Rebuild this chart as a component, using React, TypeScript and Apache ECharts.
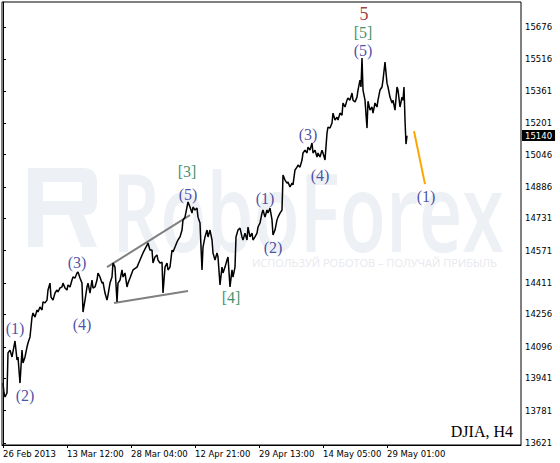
import React, { useEffect, useRef } from "react";
import * as echarts from "echarts";

// Time axis: one unit per H4 bar, labelled every 64 bars
const timeLabels = [
  "26 Feb 2013",
  "13 Mar 12:00",
  "28 Mar 04:00",
  "12 Apr 21:00",
  "29 Apr 13:00",
  "14 May 05:00",
  "29 May 01:00",
];
const timeLabelBars = [0, 64, 128, 192, 256, 320, 384];

// Price scale marks on the right-hand axis
const priceTicks = [
  13621, 13781, 13941, 14096, 14256, 14411, 14571, 14731, 14886, 15046, 15201,
  15361, 15516, 15676,
];
const lastPrice = 15140;

// DJIA H4 closes (bar index, price)
const bars = [
  0, 1, 2, 4, 5, 7, 9, 12, 14, 15, 17, 19, 20, 22, 24, 25, 27, 29, 30, 32, 34,
  35, 37, 39, 40, 42, 44, 45, 47, 48, 50, 52, 54, 55, 57, 59, 60, 62, 64, 65,
  67, 69, 70, 72, 74, 75, 77, 79, 80, 82, 84, 85, 87, 89, 90, 92, 94, 95, 97,
  99, 100, 102, 104, 105, 107, 109, 110, 112, 114, 115, 117, 119, 120, 122,
  124, 125, 127, 130, 134, 137, 140, 144, 145, 147, 149, 150, 152, 154, 155,
  157, 159, 160, 162, 164, 165, 167, 169, 170, 172, 174, 175, 177, 179, 180,
  182, 184, 185, 187, 189, 190, 192, 194, 195, 197, 199, 200, 202, 204, 205,
  207, 209, 210, 212, 214, 215, 217, 219, 220, 222, 224, 225, 227, 229, 230,
  232, 233, 235, 237, 239, 240, 242, 244, 245, 247, 249, 250, 252, 254, 255,
  257, 259, 260, 262, 264, 265, 267, 269, 270, 272, 274, 275, 277, 279, 280,
  282, 284, 285, 287, 289, 290, 292, 294, 295, 297, 299, 300, 302, 304, 305,
  307, 309, 310, 312, 314, 315, 317, 319, 320, 322, 324, 325, 327, 329, 330,
  332, 334, 335, 337, 339, 340, 342, 344, 345, 347, 349, 350, 352, 354, 355,
  357, 358, 359, 360, 362, 364, 365, 367, 369, 370, 372, 374, 375, 377, 379,
  380, 382, 384, 385, 387, 389, 390, 392, 394, 395, 397, 399, 400, 401, 402,
  403, 404,
];
const closes = [
  13917, 13868, 13848, 13868, 14066, 14080, 14046, 14125, 14031, 14046, 13917,
  14080, 14016, 14046, 14095, 14115, 14145, 14243, 14263, 14243, 14278, 14268,
  14293, 14278, 14318, 14313, 14327, 14377, 14411, 14342, 14327, 14362, 14377,
  14367, 14387, 14392, 14411, 14387, 14377, 14402, 14392, 14426, 14441, 14436,
  14461, 14466, 14436, 14411, 14268, 14327, 14392, 14411, 14362, 14426, 14387,
  14392, 14426, 14461, 14441, 14411, 14416, 14362, 14327, 14352, 14411, 14441,
  14510, 14490, 14318, 14411, 14426, 14476, 14441, 14461, 14392, 14411, 14436,
  14476, 14490, 14525, 14560, 14599, 14609, 14574, 14574, 14510, 14540, 14550,
  14525, 14510, 14515, 14362, 14490, 14510, 14476, 14490, 14574, 14565, 14589,
  14614, 14624, 14639, 14673, 14723, 14737, 14787, 14812, 14787, 14757, 14787,
  14772, 14782, 14737, 14708, 14476, 14589, 14639, 14673, 14639, 14673, 14624,
  14560, 14525, 14560, 14540, 14402, 14490, 14461, 14490, 14525, 14540, 14392,
  14476, 14441, 14490, 14639, 14673, 14683, 14639, 14624, 14658, 14624, 14688,
  14639, 14658, 14624, 14639, 14658, 14688, 14708, 14757, 14772, 14737, 14772,
  14757, 14782, 14723, 14649, 14673, 14723, 14737, 14757, 14772, 14945, 14920,
  14905, 14910, 14886, 14905, 14896, 14970, 14984, 14994, 14984, 15019, 15054,
  15068, 15054, 15083, 15068, 15103, 15054, 15068, 15034, 15054, 15034, 15068,
  15054, 15019, 15152, 15182, 15177, 15202, 15251, 15217, 15231, 15217, 15251,
  15241, 15301, 15281, 15315, 15325, 15315, 15350, 15315, 15306, 15330, 15365,
  15414, 15380, 15523, 15365, 15315, 15177, 15310, 15266, 15281, 15251, 15301,
  15281, 15315, 15365, 15380, 15414, 15503, 15399, 15380, 15330, 15301, 15315,
  15266, 15380, 15365, 15281, 15330, 15315, 15380, 15217, 15098, 15140,
];

// Elliott wave marks: text, bar, price and wave degree
const waveText = [
  "(1)", "(2)", "(3)", "(4)", "[3]", "(5)", "[4]", "(1)", "(2)", "(3)", "(4)",
  "(5)", "[5]", "5", "(1)",
];
const waveBars = [12, 22, 74, 79, 184, 185, 228, 262, 270, 305, 317, 360, 360, 361, 423];
const wavePrices = [
  14189, 13858, 14515, 14204, 14960, 14851, 14342, 14831, 14589, 15147, 14945,
  15562, 15651, 15740, 14841,
];
const waveDegree = [
  "minor", "minor", "minor", "minor", "intermediate", "minor", "intermediate",
  "minor", "minor", "minor", "minor", "minor", "intermediate", "primary", "minor",
];

// Diagonal triangle boundaries and the projected move
const triangleUpper = [
  [104, 14490],
  [187, 14747],
];
const triangleLower = [
  [111, 14313],
  [185, 14372],
];
const projection = [
  [411, 15162],
  [422, 14900],
];

const degreeColor: Record<string, string> = {
  minor: "#1c2690",
  intermediate: "#0e7440",
  primary: "#8b0a0a",
};

const axisFont = "DejaVu Sans";
const serifFont = "Liberation Serif";
const markColor = "#edf0f4";

// Blocky "R" badge used by the watermark
const badgePath =
  "M0 0 H55 Q69 0 69 14 V34 Q69 47 56 47 L69 79 H53 L41 47 H15 V79 H0 Z M15 14 V33 H54 V14 Z";
let badgeRegistered = false;
function registerBadge() {
  if (badgeRegistered) return;
  echarts.graphic.registerShape("rfBadge", echarts.graphic.extendPath(badgePath, {}) as any);
  badgeRegistered = true;
}

export default function App() {
  const ref = useRef<HTMLDivElement>(null);

  useEffect(() => {
    if (!ref.current) return;
    registerBadge();
    const chart = echarts.init(ref.current, undefined, { renderer: "svg" });

    const priceData = bars.map((b, i) => [b, closes[i]]);
    const waveData = waveText.map((t, i) => ({
      name: t,
      value: [waveBars[i], wavePrices[i]],
      label: {
        color: degreeColor[waveDegree[i]],
        fontSize: waveDegree[i] === "primary" ? 18 : 16,
      },
    }));

    chart.setOption({
      animation: false,
      backgroundColor: "#fff",
      grid: {
        left: 2,
        right: 39,
        top: 2,
        bottom: 18,
        show: true,
        borderColor: "#000",
        borderWidth: 1,
        backgroundColor: "transparent",
      },
      graphic: [
        {
          type: "rfBadge",
          x: 28,
          y: 168,
          z: 0,
          silent: true,
          style: { fill: markColor },
        },
        {
          type: "text",
          x: 112,
          y: 210,
          scaleX: 0.7,
          z: 0,
          silent: true,
          style: {
            text: "RoboForex",
            fontSize: 108,
            fontWeight: 600,
            fontFamily: "Open Sans",
            fill: markColor,
            verticalAlign: "middle",
            align: "left",
          },
        },
        {
          type: "text",
          x: 252,
          y: 262,
          z: 0,
          silent: true,
          style: {
            text: "ИСПОЛЬЗУЙ РОБОТОВ – ПОЛУЧАЙ ПРИБЫЛЬ",
            fontSize: 11,
            fontFamily: "Open Sans",
            fill: "#e6e9ee",
            verticalAlign: "middle",
            align: "left",
          },
        },
        {
          type: "text",
          x: 513,
          y: 431,
          z: 5,
          style: {
            text: "DJIA, H4",
            fontSize: 16,
            fontFamily: serifFont,
            fill: "#000",
            align: "right",
            verticalAlign: "middle",
          },
        },
      ],
      xAxis: {
        type: "value",
        min: -1,
        max: 518,
        axisLine: { show: true, lineStyle: { color: "#000", width: 1 } },
        axisTick: {
          show: true,
          customValues: timeLabelBars,
          length: 3,
          lineStyle: { color: "#000" },
        },
        axisLabel: {
          customValues: timeLabelBars,
          formatter: (v: number) => timeLabels[timeLabelBars.indexOf(v)] ?? "",
          align: "left",
          hideOverlap: false,
          showMaxLabel: true,
          showMinLabel: true,
          margin: 4,
          fontSize: 8.5,
          fontFamily: axisFont,
          color: "#000",
        },
        splitLine: { show: false },
      },
      yAxis: {
        type: "value",
        position: "right",
        min: 13611,
        max: 15800,
        axisLine: { show: true, lineStyle: { color: "#000", width: 1 } },
        axisTick: {
          show: true,
          customValues: priceTicks,
          length: 3,
          lineStyle: { color: "#000" },
        },
        axisLabel: {
          customValues: priceTicks,
          formatter: (v: number) => String(v),
          margin: 4,
          fontSize: 8.5,
          fontFamily: axisFont,
          color: "#000",
        },
        splitLine: { show: false },
      },
      series: [
        {
          name: "DJIA",
          type: "line",
          data: priceData,
          showSymbol: false,
          z: 3,
          lineStyle: { color: "#000", width: 1.5 },
          markLine: {
            silent: true,
            symbol: ["none", "none"],
            lineStyle: { color: "transparent", width: 0 },
            label: {
              show: true,
              position: "end",
              formatter: String(lastPrice),
              color: "#fff",
              backgroundColor: "#000",
              padding: [1, 3, 1, 3],
              distance: 1,
              fontSize: 8.5,
              fontFamily: axisFont,
            },
            data: [{ yAxis: lastPrice }],
          },
        },
        {
          type: "line",
          data: triangleUpper,
          showSymbol: false,
          z: 2,
          lineStyle: { color: "#808080", width: 2 },
        },
        {
          type: "line",
          data: triangleLower,
          showSymbol: false,
          z: 2,
          lineStyle: { color: "#808080", width: 2 },
        },
        {
          type: "line",
          data: projection,
          showSymbol: false,
          z: 2,
          lineStyle: { color: "#ffa500", width: 2 },
        },
        {
          type: "scatter",
          data: waveData,
          symbolSize: 1,
          itemStyle: { color: "transparent" },
          z: 4,
          label: {
            show: true,
            position: "inside",
            formatter: (p: any) => p.name,
            fontFamily: serifFont,
            fontSize: 16,
            lineHeight: 16,
          },
        },
      ],
    });

    return () => chart.dispose();
  }, []);

  return (
    <div
      ref={ref}
      style={{ position: "absolute", left: 0, top: 0, width: 560, height: 463 }}
    />
  );
}
